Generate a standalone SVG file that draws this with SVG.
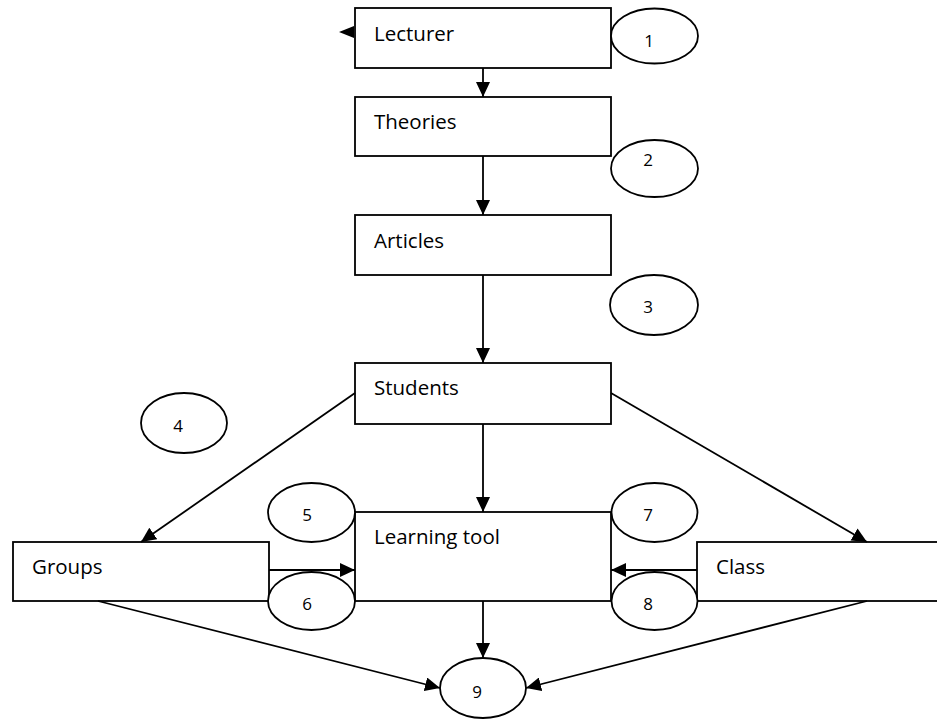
<svg xmlns="http://www.w3.org/2000/svg" width="937" height="719" viewBox="0 0 937 719">
<style>
.box{fill:#fff;stroke:#000;stroke-width:1.8}
.ell{fill:#fff;stroke:#000;stroke-width:1.8}
.lbl{font-family:"Open Sans","Liberation Sans",sans-serif;font-size:20.5px;fill:#000}
.num{font-family:"Open Sans","Liberation Sans",sans-serif;font-size:17px;fill:#000;text-anchor:middle}
.con{fill:none;stroke:#000;stroke-width:1.8}
</style>
<defs>
<marker id="ah" markerUnits="userSpaceOnUse" markerWidth="16" markerHeight="14" refX="15" refY="7" orient="auto">
<path d="M0,0 L15,7 L0,14 Z" fill="#000"/>
</marker>
</defs>
<rect width="937" height="719" fill="#fff"/>
<g id="lecturer"><rect class="box" x="355" y="8" width="256" height="60"/><text class="lbl" x="374" y="41">Lecturer</text></g>
<g id="theories"><rect class="box" x="355" y="97" width="256" height="59"/><text class="lbl" x="374" y="129">Theories</text></g>
<g id="articles"><rect class="box" x="355" y="215" width="256" height="60"/><text class="lbl" x="374" y="248">Articles</text></g>
<g id="students"><rect class="box" x="355" y="363" width="256" height="61"/><text class="lbl" x="374" y="395">Students</text></g>
<g id="learning-tool"><rect class="box" x="355" y="512" width="256" height="89"/><text class="lbl" x="374" y="544">Learning tool</text></g>
<g id="groups"><rect class="box" x="13" y="542" width="256" height="59"/><text class="lbl" x="32" y="574">Groups</text></g>
<g id="class"><rect class="box" x="697" y="542" width="256" height="59"/><text class="lbl" x="716" y="574">Class</text></g>
<g id="e1"><ellipse class="ell" cx="654.5" cy="36" rx="43.5" ry="27.5"/><text class="num" x="649" y="47">1</text></g>
<g id="e2"><ellipse class="ell" cx="654.5" cy="168.5" rx="43.5" ry="28.5"/><text class="num" x="648" y="166">2</text></g>
<g id="e3"><ellipse class="ell" cx="654" cy="305" rx="44" ry="30"/><text class="num" x="648" y="313">3</text></g>
<g id="e4"><ellipse class="ell" cx="184" cy="423" rx="43" ry="30"/><text class="num" x="178" y="432">4</text></g>
<g id="e5"><ellipse class="ell" cx="311.5" cy="512.5" rx="43.5" ry="29.5"/><text class="num" x="307" y="521">5</text></g>
<g id="e6"><ellipse class="ell" cx="311.5" cy="601" rx="43.5" ry="29"/><text class="num" x="307" y="610">6</text></g>
<g id="e7"><ellipse class="ell" cx="654.5" cy="512.5" rx="43" ry="29.5"/><text class="num" x="648" y="521">7</text></g>
<g id="e8"><ellipse class="ell" cx="654.5" cy="601" rx="43" ry="29"/><text class="num" x="648" y="610">8</text></g>
<g id="e9"><ellipse class="ell" cx="483" cy="688" rx="43" ry="30"/><text class="num" x="477" y="698">9</text></g>
<g id="connectors">
<polygon points="339,32 354,26 354,38" fill="#000"/>
<line class="con" x1="483" y1="68" x2="483" y2="97" marker-end="url(#ah)"/>
<line class="con" x1="483" y1="156" x2="483" y2="215" marker-end="url(#ah)"/>
<line class="con" x1="483" y1="275" x2="483" y2="363" marker-end="url(#ah)"/>
<line class="con" x1="483" y1="424" x2="483" y2="512" marker-end="url(#ah)"/>
<line class="con" x1="355" y1="393" x2="141" y2="542" marker-end="url(#ah)"/>
<line class="con" x1="611" y1="393" x2="867" y2="542" marker-end="url(#ah)"/>
<line class="con" x1="269" y1="570" x2="355" y2="570" marker-end="url(#ah)"/>
<line class="con" x1="697" y1="570" x2="611" y2="570" marker-end="url(#ah)"/>
<line class="con" x1="483" y1="601" x2="483" y2="658" marker-end="url(#ah)"/>
<line class="con" x1="98" y1="601" x2="440" y2="688" marker-end="url(#ah)"/>
<line class="con" x1="867" y1="601" x2="526" y2="688" marker-end="url(#ah)"/>
</g>
</svg>
